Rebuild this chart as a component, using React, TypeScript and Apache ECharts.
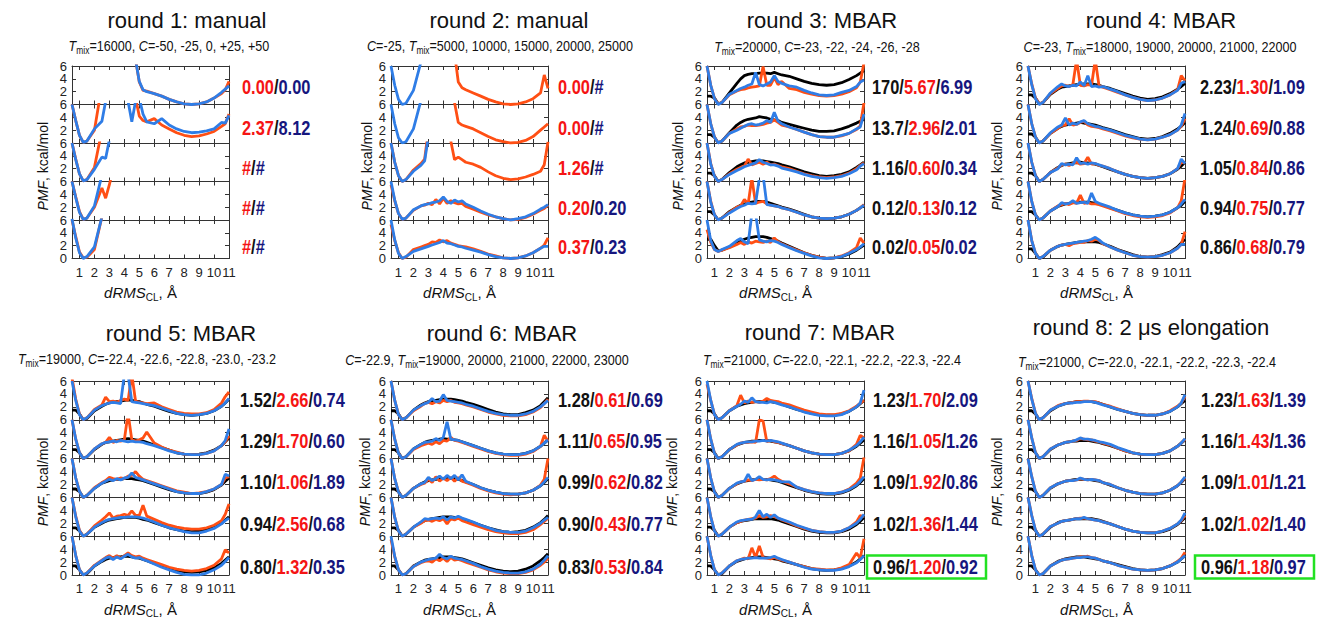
import React, { useEffect, useRef } from 'react';
import * as echarts from 'echarts';

const _ = null;

// x grid (dRMS_CL, Å)
const X = [0.5, 0.75, 1, 1.25, 1.5, 2, 2.5, 2.75, 3, 3.25, 3.5, 3.75, 4, 4.25, 4.5, 4.75, 5, 5.25, 5.5, 6, 6.5, 7, 7.5, 8, 8.5, 9, 9.5, 10, 10.5, 10.75, 11];
const X_TICKS = [1, 2, 3, 4, 5, 6, 7, 8, 9, 10, 11];

// ---------- round 1 ----------
const r1s1R = [_, _, _, _, _, _, _, _, _, _, _, _, _, _, _, 7, 3.5, 2.2, 2.1, 1.7, 1.3, 0.8, 0.4, 0.1, 0.0, 0.1, 0.4, 1.0, 1.7, 2.3, 3.6];
const r1s1B = [_, _, _, _, _, _, _, _, _, _, _, _, _, _, _, 7, 3.6, 2.3, 2.0, 1.7, 1.3, 0.8, 0.4, 0.1, 0.0, 0.1, 0.4, 1.0, 1.9, 2.4, 2.9];
const r1s2R = [6, 3.5, 1.2, 0.1, 0.3, 2.0, 9, _, _, _, _, _, _, _, _, 7, 4.2, 3.5, 3.3, 3.8, 2.8, 2.2, 1.6, 1.2, 1.0, 1.1, 1.4, 1.8, 2.6, 3.0, 4.5];
const r1s2B = [6, 3.5, 1.2, 0.1, 0.3, 2.2, 3.4, 6.5, _, _, _, _, _, 6.5, 3.3, 6.5, 7, 4.5, 3.3, 3.0, 3.8, 2.8, 2.2, 1.8, 1.6, 1.7, 1.9, 2.2, 3.2, 3.1, 4.3];
const r1s3R = [6, 3.5, 1.2, 0.1, 0.3, 2.2, 8, _, _, _, _, _, _, _, _, _, _, _, _, _, _, _, _, _, _, _, _, _, _, _, _];
const r1s3B = [6, 3.4, 1.2, 0.1, 0.3, 1.9, 3.8, 3.6, 6.5, _, _, _, _, _, _, _, _, _, _, _, _, _, _, _, _, _, _, _, _, _, _];
const r1s4R = [6, 3.6, 1.3, 0.1, 0.3, 2.0, 5.0, 3.4, 5.5, 8, _, _, _, _, _, _, _, _, _, _, _, _, _, _, _, _, _, _, _, _, _];
const r1s4B = [6, 3.5, 1.2, 0.1, 0.3, 2.2, 7, _, _, _, _, _, _, _, _, _, _, _, _, _, _, _, _, _, _, _, _, _, _, _, _];
const r1s5R = [6, 3.4, 1.0, 0.1, 0.2, 1.4, 6.5, _, _, _, _, _, _, _, _, _, _, _, _, _, _, _, _, _, _, _, _, _, _, _, _];
const r1s5B = [6.2, 3.2, 0.9, 0.0, 0.3, 1.8, 6.5, _, _, _, _, _, _, _, _, _, _, _, _, _, _, _, _, _, _, _, _, _, _, _, _];

// ---------- round 2 ----------
const r2s1R = [_, _, _, _, _, _, _, _, _, _, _, _, _, _, _, 8, 3.5, 2.6, 2.3, 1.8, 1.3, 0.8, 0.4, 0.1, 0.0, 0.1, 0.4, 0.9, 1.8, 4.6, 2.5];
const r2s1B = [6, 3.0, 0.8, 0.0, 0.2, 2.2, 6.6, _, _, _, _, _, _, _, _, _, _, _, _, _, _, _, _, _, _, _, _, _, _, _, _];
const r2s2R = [_, _, _, _, _, _, _, _, _, _, _, _, _, _, _, 6.3, 3.2, 2.8, 2.6, 2.2, 1.6, 1.0, 0.5, 0.2, 0.0, 0.1, 0.4, 1.0, 2.0, 2.5, 3.0];
const r2s2B = [6, 3.0, 0.8, 0.0, 0.2, 2.2, 6.6, _, _, _, _, _, _, _, _, _, _, _, _, _, _, _, _, _, _, _, _, _, _, _, _];
const r2s3R = [6, 3.0, 0.9, 0.0, 0.3, 1.8, 2.8, 3.5, 8, _, _, _, _, _, 6.3, 3.4, 3.8, 3.4, 3.0, 2.7, 2.2, 1.5, 0.9, 0.5, 0.3, 0.4, 0.7, 1.1, 1.6, 2.6, 6.2];
const r2s3B = [6, 3.0, 0.9, 0.0, 0.3, 1.6, 2.5, 3.2, 7, _, _, _, _, _, _, _, _, _, _, _, _, _, _, _, _, _, _, _, _, _, _];
const r2s4R = [5.5, 3.0, 1.0, 0.1, 0.3, 1.5, 2.2, 2.3, 2.6, 2.4, 3.2, 2.5, 3.4, 2.6, 3.0, 2.7, 2.5, 2.6, 2.1, 1.7, 1.2, 0.8, 0.5, 0.2, 0.0, 0.1, 0.4, 0.9, 1.5, 1.8, 2.3];
const r2s4B = [6, 3.1, 1.0, 0.1, 0.3, 1.6, 2.2, 2.4, 2.5, 2.7, 2.8, 3.0, 3.6, 2.9, 2.6, 3.1, 2.8, 3.0, 2.5, 2.0, 1.4, 0.9, 0.5, 0.2, 0.0, 0.2, 0.5, 1.0, 1.7, 2.0, 2.4];
const r2s5R = [5.3, 2.8, 0.9, 0.0, 0.2, 1.4, 1.8, 2.0, 2.2, 2.6, 2.5, 2.9, 2.6, 2.8, 2.4, 2.2, 2.0, 1.9, 1.8, 1.5, 1.1, 0.7, 0.4, 0.1, 0.0, 0.1, 0.4, 0.9, 1.6, 2.1, 3.2];
const r2s5B = [6, 2.9, 0.8, 0.0, 0.3, 1.1, 1.5, 1.7, 1.9, 2.1, 2.3, 2.5, 2.8, 2.4, 2.3, 2.1, 1.9, 1.8, 1.6, 1.3, 1.0, 0.6, 0.3, 0.1, 0.0, 0.1, 0.4, 0.9, 1.6, 1.9, 1.9];

// ---------- round 3 ----------
const r3s1K = [1.3, 1.3, 1.0, 0.1, 0.3, 1.8, 3.3, 4.0, 4.5, 4.7, 4.8, 4.8, 4.9, 4.9, 4.9, 4.8, 5.0, 4.8, 4.6, 4.4, 4.0, 3.6, 3.3, 3.1, 3.0, 3.1, 3.4, 3.9, 4.5, 4.9, 5.3];
const r3s1R = [6, 3.0, 0.9, 0.1, 0.3, 1.5, 2.1, 2.3, 2.4, 2.6, 2.7, 2.8, 2.9, 5.9, 3.0, 3.0, 4.2, 3.1, 3.6, 2.5, 2.3, 1.9, 1.6, 1.4, 1.3, 1.4, 1.6, 2.0, 2.6, 3.5, 6.5];
const r3s1B = [6, 3.0, 0.9, 0.0, 0.3, 1.6, 2.2, 2.5, 2.7, 3.0, 3.2, 5.0, 3.1, 2.9, 3.2, 3.5, 4.5, 3.6, 3.3, 2.9, 2.7, 2.2, 1.8, 1.5, 1.4, 1.5, 1.9, 2.2, 2.8, 3.5, 3.8];
const r3s2K = [1.3, 1.3, 0.9, 0.0, 0.3, 1.6, 2.8, 3.2, 3.5, 3.7, 3.8, 3.9, 4.1, 4.0, 3.9, 3.7, 3.6, 3.5, 3.2, 2.9, 2.6, 2.3, 2.0, 1.8, 1.8, 1.9, 2.2, 2.6, 3.1, 3.4, 3.7];
const r3s2R = [6, 3.0, 0.9, 0.0, 0.3, 1.5, 2.2, 2.5, 2.6, 2.8, 2.7, 2.7, 2.8, 2.9, 3.1, 3.2, 3.6, 3.2, 2.8, 2.5, 2.1, 1.7, 1.3, 1.0, 0.9, 0.9, 1.1, 1.5, 2.1, 2.7, 6.3];
const r3s2B = [6, 3.0, 0.9, 0.0, 0.3, 1.5, 2.0, 2.3, 2.6, 2.9, 3.0, 2.8, 2.9, 3.1, 3.5, 3.2, 4.8, 3.4, 3.0, 2.5, 2.1, 1.7, 1.3, 1.0, 0.9, 0.9, 1.2, 1.5, 2.2, 2.5, 4.5];
const r3s3K = [1.3, 1.3, 0.9, 0.0, 0.3, 1.4, 2.3, 2.6, 2.9, 3.0, 3.1, 3.2, 3.2, 3.2, 3.1, 3.0, 2.9, 2.8, 2.6, 2.3, 1.9, 1.5, 1.2, 0.9, 0.8, 0.9, 1.1, 1.5, 2.2, 2.6, 3.0];
const r3s3R = [6, 2.8, 0.8, 0.0, 0.3, 1.2, 1.9, 2.2, 2.4, 3.5, 2.6, 2.8, 3.0, 2.7, 3.0, 2.6, 2.7, 2.5, 2.3, 2.0, 1.6, 1.2, 0.9, 0.7, 0.6, 0.7, 0.9, 1.3, 2.0, 2.5, 2.9];
const r3s3B = [6, 2.7, 0.8, 0.0, 0.3, 1.1, 1.7, 2.0, 2.3, 2.5, 2.7, 2.9, 3.4, 3.0, 2.8, 2.6, 2.6, 2.4, 2.1, 1.8, 1.5, 1.1, 0.8, 0.6, 0.5, 0.6, 0.8, 1.2, 1.8, 2.4, 2.8];
const r3s4K = [1.3, 1.3, 0.8, 0.0, 0.3, 1.3, 2.0, 2.3, 2.5, 2.7, 2.8, 2.9, 2.9, 2.9, 2.8, 2.6, 2.4, 2.2, 2.0, 1.7, 1.3, 0.9, 0.5, 0.3, 0.2, 0.3, 0.5, 0.9, 1.5, 1.9, 2.3];
const r3s4R = [6, 2.9, 0.8, 0.0, 0.3, 1.2, 2.0, 2.2, 3.2, 2.5, 6.5, 2.6, 2.8, 2.9, 2.5, 2.3, 2.2, 2.1, 1.9, 1.6, 1.2, 0.8, 0.5, 0.3, 0.2, 0.3, 0.5, 0.9, 1.5, 1.9, 2.4];
const r3s4B = [6, 2.8, 0.8, 0.0, 0.3, 1.1, 1.8, 2.1, 2.3, 2.6, 2.5, 2.6, 6.5, 7, 2.4, 2.3, 2.2, 2.1, 1.9, 1.6, 1.2, 0.8, 0.5, 0.3, 0.2, 0.3, 0.5, 0.9, 1.5, 1.9, 2.3];
const r3s5K = [3.0, 3.0, 2.0, 1.2, 1.3, 1.8, 2.4, 2.7, 3.0, 3.2, 3.3, 3.4, 3.4, 3.4, 3.3, 3.1, 2.9, 2.7, 2.4, 1.9, 1.4, 0.9, 0.5, 0.2, 0.0, 0.1, 0.3, 0.7, 1.3, 1.7, 2.1];
const r3s5R = [4.5, 2.5, 1.4, 1.1, 1.3, 1.7, 2.2, 2.5, 2.2, 2.6, 2.4, 2.7, 2.6, 2.5, 2.7, 2.5, 3.2, 2.6, 2.3, 1.8, 1.3, 0.9, 0.5, 0.2, 0.0, 0.1, 0.4, 0.9, 1.7, 3.2, 2.4];
const r3s5B = [6, 2.8, 1.4, 1.1, 1.4, 1.9, 2.8, 3.1, 2.6, 2.3, 7, 7, 2.9, 2.7, 2.6, 2.8, 2.7, 2.5, 2.2, 1.7, 1.2, 0.8, 0.4, 0.1, 0.0, 0.1, 0.3, 0.8, 1.4, 1.8, 2.3];

// ---------- round 4 ----------
const r4s1K = [1.5, 1.5, 1.0, 0.1, 0.3, 1.6, 2.4, 2.7, 2.8, 2.9, 3.0, 3.1, 3.1, 3.2, 3.2, 3.2, 3.1, 3.0, 2.8, 2.5, 2.1, 1.7, 1.3, 1.0, 0.8, 0.9, 1.2, 1.7, 2.4, 2.8, 3.3];
const r4s1R = [6, 3.2, 1.0, 0.1, 0.3, 1.7, 2.5, 2.9, 3.0, 2.8, 3.1, 7, 3.0, 2.9, 3.1, 3.0, 7, 2.9, 2.7, 2.3, 1.9, 1.5, 1.1, 0.8, 0.6, 0.7, 1.0, 1.5, 2.3, 4.5, 3.7];
const r4s1B = [6, 3.1, 0.9, 0.0, 0.3, 1.8, 2.8, 3.2, 2.9, 2.8, 3.0, 2.9, 3.5, 2.9, 4.5, 2.8, 2.9, 2.7, 2.8, 2.4, 2.0, 1.5, 1.1, 0.8, 0.6, 0.7, 1.0, 1.5, 2.2, 3.3, 3.6];
const r4s2K = [1.4, 1.4, 0.9, 0.0, 0.3, 1.5, 2.3, 2.6, 2.8, 2.9, 3.0, 3.1, 3.2, 3.1, 3.0, 2.9, 2.8, 2.6, 2.4, 2.1, 1.7, 1.3, 1.0, 0.7, 0.6, 0.7, 1.0, 1.5, 2.2, 2.6, 3.2];
const r4s2R = [6, 3.0, 0.9, 0.0, 0.3, 1.5, 2.3, 2.7, 2.8, 3.8, 2.8, 2.9, 3.2, 3.4, 2.8, 2.6, 2.5, 2.4, 2.2, 1.9, 1.5, 1.1, 0.8, 0.6, 0.5, 0.6, 0.9, 1.3, 2.0, 2.6, 3.8];
const r4s2B = [6, 3.0, 0.9, 0.0, 0.3, 1.6, 2.5, 2.8, 3.9, 2.8, 3.1, 2.9, 3.3, 3.5, 3.0, 2.8, 2.6, 2.5, 2.3, 2.0, 1.6, 1.2, 0.9, 0.6, 0.5, 0.6, 0.9, 1.3, 2.0, 2.8, 4.6];
const r4s3K = [1.3, 1.3, 0.9, 0.0, 0.3, 1.4, 2.2, 2.5, 2.7, 2.8, 2.9, 2.9, 3.0, 2.9, 2.9, 2.8, 2.7, 2.5, 2.3, 1.9, 1.5, 1.1, 0.8, 0.6, 0.5, 0.6, 0.8, 1.2, 1.9, 2.4, 3.0];
const r4s3R = [6, 3.0, 0.9, 0.0, 0.3, 1.4, 2.1, 2.6, 2.7, 2.5, 2.8, 3.0, 2.7, 2.8, 3.8, 2.7, 2.8, 2.5, 2.4, 2.0, 1.5, 1.1, 0.8, 0.6, 0.5, 0.6, 0.8, 1.2, 2.0, 3.0, 2.9];
const r4s3B = [6, 3.0, 0.9, 0.0, 0.3, 1.4, 2.0, 2.8, 2.6, 2.7, 2.6, 3.7, 2.8, 2.9, 2.7, 2.9, 2.8, 2.6, 2.4, 2.0, 1.5, 1.1, 0.8, 0.6, 0.5, 0.6, 0.8, 1.2, 2.0, 3.5, 2.8];
const r4s4K = [1.3, 1.3, 0.8, 0.0, 0.3, 1.4, 2.1, 2.3, 2.5, 2.6, 2.7, 2.8, 2.8, 2.8, 2.8, 2.7, 2.6, 2.5, 2.3, 1.9, 1.5, 1.1, 0.8, 0.6, 0.5, 0.6, 0.8, 1.2, 1.9, 2.3, 2.9];
const r4s4R = [6, 2.9, 0.8, 0.0, 0.3, 1.4, 2.2, 2.4, 2.6, 2.4, 2.7, 2.6, 3.9, 2.6, 2.7, 2.5, 2.5, 2.4, 2.2, 1.8, 1.4, 1.0, 0.7, 0.5, 0.4, 0.5, 0.7, 1.1, 1.9, 3.0, 6.5];
const r4s4B = [6, 2.9, 0.8, 0.0, 0.3, 1.4, 2.1, 2.7, 2.5, 2.6, 3.0, 2.6, 2.7, 2.8, 2.6, 4.2, 2.9, 2.6, 2.4, 2.0, 1.5, 1.1, 0.8, 0.6, 0.5, 0.6, 0.8, 1.2, 1.9, 2.5, 3.2];
const r4s5K = [1.5, 1.5, 0.8, 0.0, 0.2, 1.3, 1.9, 2.1, 2.2, 2.3, 2.4, 2.5, 2.6, 2.6, 2.6, 2.6, 2.6, 2.5, 2.3, 1.9, 1.4, 1.0, 0.6, 0.3, 0.2, 0.3, 0.6, 1.0, 1.8, 2.4, 3.0];
const r4s5R = [6, 2.8, 0.8, 0.0, 0.3, 1.3, 1.9, 2.1, 2.2, 2.0, 2.3, 2.4, 2.5, 2.5, 2.8, 2.7, 3.0, 2.8, 2.3, 1.8, 1.3, 0.9, 0.5, 0.3, 0.2, 0.3, 0.5, 0.9, 1.6, 2.2, 4.2];
const r4s5B = [6, 2.8, 0.8, 0.0, 0.3, 1.3, 1.9, 2.1, 2.2, 2.3, 2.4, 2.5, 2.6, 2.7, 2.8, 3.0, 3.3, 2.9, 2.4, 1.8, 1.3, 0.9, 0.5, 0.3, 0.2, 0.3, 0.5, 0.9, 1.6, 2.2, 2.2];

// ---------- round 5 ----------
const r5s1K = [1.5, 1.5, 0.9, 0.0, 0.2, 1.4, 2.1, 2.4, 2.6, 2.7, 2.8, 2.9, 3.0, 3.1, 3.0, 2.9, 2.8, 2.6, 2.4, 2.1, 1.7, 1.3, 1.0, 0.8, 0.7, 0.8, 1.0, 1.4, 2.1, 2.6, 3.2];
const r5s1R = [6.5, 3.2, 0.9, 0.0, 0.3, 1.6, 2.3, 3.5, 2.8, 2.9, 2.7, 3.0, 3.2, 3.0, 7, 2.9, 2.7, 2.6, 2.5, 2.6, 2.0, 1.6, 1.2, 1.0, 0.9, 0.9, 1.1, 1.6, 2.6, 3.6, 4.3];
const r5s1B = [6, 3.0, 0.8, 0.0, 0.3, 1.5, 2.2, 2.4, 2.6, 2.7, 2.6, 2.5, 7, 7, 2.8, 2.7, 2.6, 2.5, 2.4, 2.2, 1.8, 1.4, 1.0, 0.8, 0.7, 0.8, 1.0, 1.4, 2.1, 2.6, 3.3];
const r5s2K = [1.4, 1.4, 0.9, 0.0, 0.3, 1.4, 2.2, 2.5, 2.6, 2.7, 2.8, 2.9, 3.0, 3.1, 3.0, 2.9, 2.8, 2.7, 2.5, 2.1, 1.7, 1.3, 0.9, 0.7, 0.6, 0.7, 0.9, 1.3, 2.0, 2.6, 3.2];
const r5s2R = [6, 3.0, 0.9, 0.0, 0.3, 1.5, 2.3, 2.5, 3.3, 2.5, 2.8, 2.7, 2.9, 7, 2.9, 2.7, 2.9, 3.2, 4.1, 2.4, 1.8, 1.3, 1.0, 0.7, 0.6, 0.6, 0.8, 1.2, 2.0, 2.6, 3.5];
const r5s2B = [6, 3.0, 0.9, 0.0, 0.3, 1.5, 2.3, 2.5, 2.6, 2.7, 2.6, 2.8, 2.7, 2.6, 2.7, 2.6, 2.6, 2.5, 2.3, 2.0, 1.6, 1.2, 0.9, 0.7, 0.6, 0.6, 0.8, 1.2, 2.0, 2.8, 4.6];
const r5s3K = [1.3, 1.3, 0.9, 0.0, 0.3, 1.4, 2.2, 2.4, 2.6, 2.7, 2.8, 2.8, 2.9, 2.9, 2.9, 2.8, 2.7, 2.6, 2.4, 2.0, 1.6, 1.2, 0.9, 0.7, 0.6, 0.6, 0.8, 1.2, 1.9, 2.5, 3.0];
const r5s3R = [6, 3.0, 0.9, 0.0, 0.3, 1.5, 2.3, 2.6, 3.1, 2.9, 2.8, 3.0, 2.9, 3.3, 3.4, 4.0, 3.3, 2.8, 2.6, 2.2, 1.8, 1.4, 1.0, 0.8, 0.6, 0.7, 0.9, 1.3, 2.0, 3.0, 3.2];
const r5s3B = [6, 3.0, 0.9, 0.0, 0.3, 1.4, 2.2, 2.5, 2.8, 2.6, 2.9, 2.7, 3.0, 3.1, 3.8, 3.1, 2.9, 2.7, 2.5, 2.1, 1.7, 1.3, 0.9, 0.7, 0.6, 0.6, 0.9, 1.3, 2.0, 3.6, 3.3];
const r5s4K = [1.3, 1.3, 0.8, 0.0, 0.3, 1.4, 2.0, 2.3, 2.5, 2.6, 2.7, 2.8, 2.9, 2.9, 2.9, 2.9, 2.8, 2.6, 2.5, 2.1, 1.7, 1.3, 1.0, 0.8, 0.7, 0.8, 1.0, 1.4, 2.0, 2.5, 3.0];
const r5s4R = [6, 3.1, 0.9, 0.0, 0.3, 1.6, 2.5, 3.0, 3.6, 2.8, 3.1, 3.2, 3.4, 3.2, 3.9, 3.2, 3.2, 4.8, 3.1, 2.6, 2.1, 1.7, 1.4, 1.2, 1.1, 1.1, 1.3, 1.7, 2.4, 3.4, 5.0];
const r5s4B = [6, 3.0, 0.8, 0.0, 0.3, 1.4, 2.1, 2.4, 2.6, 2.7, 2.8, 2.9, 2.9, 3.0, 3.0, 3.0, 2.9, 2.8, 2.6, 2.2, 1.7, 1.3, 1.0, 0.7, 0.5, 0.5, 0.8, 1.2, 1.9, 2.4, 2.8];
const r5s5K = [1.4, 1.4, 0.8, 0.0, 0.2, 1.4, 2.1, 2.4, 2.6, 2.7, 2.8, 2.8, 2.9, 2.9, 2.8, 2.7, 2.6, 2.4, 2.2, 1.8, 1.4, 1.0, 0.7, 0.5, 0.4, 0.5, 0.7, 1.1, 1.8, 2.3, 2.8];
const r5s5R = [6, 3.0, 0.8, 0.0, 0.3, 1.5, 2.3, 2.7, 3.0, 2.6, 3.0, 2.6, 3.0, 3.4, 3.0, 2.8, 2.9, 2.6, 2.4, 2.0, 1.6, 1.2, 0.9, 0.7, 0.6, 0.7, 1.0, 1.5, 2.5, 3.9, 3.4];
const r5s5B = [6, 3.0, 0.8, 0.0, 0.3, 1.4, 2.2, 2.6, 2.8, 2.4, 2.8, 2.5, 2.9, 3.2, 2.8, 2.6, 2.7, 2.4, 2.2, 1.7, 1.2, 0.8, 0.4, 0.1, 0.0, 0.0, 0.3, 0.8, 1.5, 2.1, 2.7];

// ---------- round 6 ----------
const r6s1K = [1.4, 1.4, 0.9, 0.0, 0.3, 1.5, 2.3, 2.6, 2.8, 2.9, 3.0, 3.1, 3.2, 3.2, 3.2, 3.1, 3.0, 2.9, 2.7, 2.4, 2.0, 1.6, 1.2, 0.9, 0.8, 0.8, 1.1, 1.5, 2.2, 2.8, 3.4];
const r6s1R = [6, 3.0, 0.8, 0.0, 0.3, 1.4, 2.1, 2.5, 2.7, 2.5, 2.8, 2.6, 3.0, 2.8, 3.0, 2.7, 2.6, 2.5, 2.3, 2.0, 1.6, 1.2, 0.9, 0.7, 0.6, 0.6, 0.8, 1.2, 1.9, 2.5, 3.2];
const r6s1B = [6, 3.0, 0.8, 0.0, 0.3, 1.5, 2.2, 2.5, 2.7, 3.3, 2.8, 2.9, 3.9, 3.0, 2.9, 2.8, 2.7, 2.6, 2.4, 2.1, 1.7, 1.3, 1.0, 0.8, 0.7, 0.7, 0.9, 1.3, 2.0, 2.5, 3.0];
const r6s2K = [1.4, 1.4, 0.9, 0.0, 0.3, 1.5, 2.2, 2.5, 2.7, 2.8, 2.9, 3.0, 3.1, 3.0, 3.0, 2.9, 2.8, 2.6, 2.4, 2.0, 1.6, 1.2, 0.9, 0.7, 0.6, 0.6, 0.8, 1.2, 1.9, 2.4, 2.9];
const r6s2R = [6, 3.0, 0.8, 0.0, 0.3, 1.4, 2.0, 2.2, 2.4, 2.2, 2.6, 2.3, 2.8, 2.7, 3.3, 2.8, 2.7, 2.5, 2.3, 1.9, 1.5, 1.1, 0.8, 0.6, 0.5, 0.5, 0.7, 1.1, 1.9, 3.6, 2.7];
const r6s2B = [6, 3.0, 0.8, 0.0, 0.3, 1.5, 2.2, 2.5, 2.6, 2.7, 3.1, 2.8, 3.3, 5.7, 3.0, 2.9, 2.8, 2.6, 2.4, 2.0, 1.6, 1.2, 0.9, 0.7, 0.6, 0.6, 0.8, 1.2, 1.9, 2.4, 2.9];
const r6s3K = [1.3, 1.3, 0.9, 0.0, 0.3, 1.4, 2.1, 2.4, 2.6, 2.7, 2.8, 2.9, 2.9, 3.0, 2.9, 2.9, 2.8, 2.6, 2.4, 2.0, 1.5, 1.1, 0.8, 0.6, 0.5, 0.5, 0.7, 1.1, 1.8, 2.3, 2.9];
const r6s3R = [6, 2.9, 0.8, 0.0, 0.3, 1.4, 2.0, 2.2, 2.8, 2.3, 3.2, 2.5, 3.0, 2.6, 3.1, 2.5, 3.1, 2.5, 2.3, 1.9, 1.4, 1.0, 0.7, 0.5, 0.4, 0.5, 0.7, 1.1, 1.9, 2.8, 6.0];
const r6s3B = [6, 2.9, 0.8, 0.0, 0.3, 1.4, 2.1, 2.3, 3.1, 2.6, 2.9, 3.3, 2.8, 3.4, 2.9, 3.4, 2.7, 3.5, 2.5, 2.0, 1.5, 1.1, 0.8, 0.6, 0.5, 0.5, 0.7, 1.1, 1.8, 2.4, 3.1];
const r6s4K = [1.3, 1.3, 0.9, 0.0, 0.3, 1.4, 2.1, 2.4, 2.6, 2.7, 2.8, 2.9, 3.0, 3.0, 3.0, 2.9, 2.8, 2.7, 2.5, 2.1, 1.7, 1.3, 1.0, 0.7, 0.6, 0.7, 0.9, 1.4, 2.1, 2.6, 3.2];
const r6s4R = [6, 2.9, 0.8, 0.0, 0.3, 1.4, 2.0, 2.4, 2.5, 2.3, 2.6, 2.4, 2.7, 1.9, 2.7, 2.5, 2.8, 2.4, 2.2, 1.8, 1.4, 1.0, 0.7, 0.5, 0.4, 0.4, 0.6, 1.0, 1.8, 2.3, 2.8];
const r6s4B = [6, 2.9, 0.8, 0.0, 0.3, 1.4, 2.2, 2.7, 2.6, 2.7, 2.8, 2.7, 3.0, 2.5, 3.0, 2.8, 3.1, 2.8, 2.6, 2.2, 1.7, 1.3, 0.9, 0.7, 0.6, 0.6, 0.8, 1.3, 2.0, 2.5, 2.9];
const r6s5K = [1.4, 1.4, 0.8, 0.0, 0.2, 1.4, 2.0, 2.3, 2.4, 2.5, 2.6, 2.7, 2.8, 2.8, 2.8, 2.7, 2.6, 2.5, 2.3, 1.9, 1.5, 1.1, 0.8, 0.6, 0.5, 0.6, 0.9, 1.4, 2.2, 2.7, 3.3];
const r6s5R = [5.5, 2.8, 0.8, 0.0, 0.2, 1.3, 1.9, 2.1, 2.2, 2.0, 2.5, 2.2, 2.6, 2.1, 2.7, 2.3, 2.4, 2.2, 2.0, 1.6, 1.2, 0.8, 0.5, 0.3, 0.2, 0.2, 0.4, 0.8, 1.5, 2.0, 2.6];
const r6s5B = [6, 2.9, 0.8, 0.0, 0.2, 1.3, 2.0, 2.2, 2.4, 2.5, 2.6, 3.2, 2.7, 2.5, 2.9, 2.6, 2.5, 2.4, 2.2, 1.8, 1.3, 0.9, 0.6, 0.4, 0.3, 0.3, 0.5, 0.9, 1.7, 2.3, 3.0];

// ---------- round 7 ----------
const r7s1K = [1.4, 1.4, 0.9, 0.0, 0.3, 1.4, 2.1, 2.3, 2.5, 2.6, 2.7, 2.8, 2.8, 2.8, 2.8, 2.8, 2.7, 2.6, 2.4, 2.0, 1.6, 1.3, 1.0, 0.8, 0.7, 0.7, 0.9, 1.3, 2.0, 2.5, 3.0];
const r7s1R = [5.5, 3.0, 0.8, 0.0, 0.3, 1.4, 2.2, 3.8, 2.6, 2.9, 2.7, 2.8, 2.7, 2.9, 3.3, 3.0, 2.9, 2.8, 2.6, 2.3, 1.9, 1.5, 1.2, 0.9, 0.8, 0.8, 1.0, 1.4, 2.1, 2.6, 3.0];
const r7s1B = [6, 3.0, 0.8, 0.0, 0.3, 1.4, 2.1, 2.4, 2.9, 2.7, 3.4, 2.8, 2.7, 2.7, 2.6, 2.8, 2.7, 2.5, 2.3, 2.0, 1.6, 1.2, 0.9, 0.7, 0.6, 0.6, 0.8, 1.3, 2.0, 2.6, 4.6];
const r7s2K = [1.4, 1.4, 0.9, 0.0, 0.3, 1.4, 2.1, 2.3, 2.5, 2.6, 2.7, 2.7, 2.8, 2.8, 2.8, 2.7, 2.6, 2.5, 2.3, 2.0, 1.6, 1.2, 0.9, 0.7, 0.6, 0.6, 0.8, 1.2, 1.9, 2.4, 2.9];
const r7s2R = [6, 3.0, 0.8, 0.0, 0.3, 1.4, 2.1, 2.4, 2.5, 2.5, 2.6, 2.5, 6.0, 5.8, 2.6, 2.8, 2.6, 2.5, 2.3, 2.0, 1.6, 1.2, 0.9, 0.7, 0.6, 0.6, 0.8, 1.2, 2.2, 3.6, 3.2];
const r7s2B = [6, 3.0, 0.8, 0.0, 0.3, 1.4, 2.2, 2.4, 2.5, 2.6, 2.6, 2.7, 2.7, 2.8, 2.7, 2.8, 2.7, 2.6, 2.4, 2.0, 1.6, 1.2, 0.9, 0.7, 0.6, 0.6, 0.8, 1.3, 2.0, 2.6, 3.3];
const r7s3K = [1.3, 1.3, 0.9, 0.0, 0.3, 1.4, 2.1, 2.3, 2.5, 2.6, 2.7, 2.8, 2.8, 2.8, 2.8, 2.7, 2.6, 2.5, 2.3, 1.9, 1.5, 1.1, 0.8, 0.6, 0.5, 0.5, 0.7, 1.1, 1.8, 2.3, 2.9];
const r7s3R = [6, 3.0, 0.8, 0.0, 0.3, 1.4, 2.1, 2.4, 2.5, 2.7, 2.6, 2.8, 2.7, 2.8, 2.7, 2.9, 3.3, 2.8, 2.5, 2.1, 1.6, 1.2, 0.9, 0.7, 0.6, 0.6, 0.8, 1.3, 2.2, 3.0, 6.2];
const r7s3B = [6, 3.0, 0.8, 0.0, 0.3, 1.4, 2.2, 2.4, 2.5, 3.6, 2.6, 2.8, 3.2, 2.8, 2.7, 2.8, 2.7, 2.6, 2.4, 2.4, 1.6, 1.2, 0.9, 0.7, 0.6, 0.6, 0.8, 1.2, 1.9, 2.5, 3.2];
const r7s4K = [1.4, 1.4, 0.9, 0.0, 0.3, 1.4, 2.1, 2.3, 2.4, 2.5, 2.6, 2.7, 2.7, 2.7, 2.7, 2.7, 2.6, 2.5, 2.3, 1.9, 1.5, 1.1, 0.8, 0.6, 0.5, 0.5, 0.7, 1.1, 1.8, 2.3, 2.9];
const r7s4R = [6, 3.0, 0.8, 0.0, 0.3, 1.4, 2.1, 2.3, 2.5, 2.6, 2.7, 2.8, 3.2, 2.9, 3.0, 3.2, 3.0, 2.8, 2.5, 2.1, 1.6, 1.2, 0.9, 0.7, 0.6, 0.6, 0.8, 1.3, 2.2, 3.2, 3.0];
const r7s4B = [6, 3.0, 0.8, 0.0, 0.3, 1.4, 2.2, 2.4, 2.5, 2.6, 2.6, 3.0, 4.0, 3.0, 3.4, 2.9, 3.3, 2.8, 2.6, 2.2, 1.7, 1.3, 0.9, 0.7, 0.6, 0.6, 0.8, 1.3, 2.0, 2.6, 3.4];
const r7s5K = [1.4, 1.4, 0.8, 0.0, 0.2, 1.4, 2.1, 2.3, 2.5, 2.6, 2.7, 2.8, 2.8, 2.8, 2.7, 2.6, 2.5, 2.4, 2.2, 1.9, 1.6, 1.3, 1.0, 0.8, 0.7, 0.8, 1.0, 1.4, 2.0, 2.5, 3.0];
const r7s5R = [6, 3.0, 0.8, 0.0, 0.3, 1.4, 2.2, 2.4, 2.6, 2.5, 4.2, 2.7, 4.5, 2.7, 2.6, 2.5, 2.7, 2.5, 2.3, 2.0, 1.6, 1.3, 1.0, 0.9, 0.8, 0.8, 1.1, 1.6, 3.4, 2.6, 5.6];
const r7s5B = [6, 3.0, 0.8, 0.0, 0.3, 1.4, 2.2, 2.4, 2.5, 2.6, 2.6, 2.7, 2.6, 2.6, 2.6, 2.7, 2.9, 2.6, 2.4, 2.0, 1.6, 1.2, 0.9, 0.8, 0.7, 0.7, 0.9, 1.3, 1.9, 2.4, 3.0];

// ---------- round 8 (reference black curves are those of round 7) ----------
const r8s1R = [6, 3.3, 1.0, 0.0, 0.3, 1.5, 2.2, 2.4, 2.5, 2.6, 2.7, 2.8, 2.8, 2.9, 2.9, 2.8, 2.8, 2.6, 2.4, 2.1, 1.7, 1.3, 1.0, 0.8, 0.7, 0.7, 0.9, 1.4, 2.1, 2.6, 3.6];
const r8s1B = [6, 3.2, 1.0, 0.0, 0.3, 1.5, 2.1, 2.3, 2.5, 2.6, 2.6, 2.7, 2.7, 2.8, 2.8, 2.8, 2.7, 2.5, 2.3, 2.0, 1.6, 1.3, 1.0, 0.8, 0.7, 0.7, 0.9, 1.3, 2.0, 2.6, 3.9];
const r8s2R = [6, 3.2, 0.9, 0.0, 0.3, 1.5, 2.1, 2.3, 2.5, 2.6, 2.7, 2.8, 3.1, 3.0, 2.9, 2.9, 2.7, 2.6, 2.4, 2.1, 1.6, 1.2, 0.9, 0.7, 0.6, 0.6, 0.8, 1.2, 1.9, 2.4, 3.0];
const r8s2B = [6, 3.2, 0.9, 0.0, 0.3, 1.5, 2.1, 2.3, 2.5, 2.6, 2.7, 2.9, 3.2, 3.0, 3.0, 2.9, 2.8, 2.6, 2.5, 2.2, 1.7, 1.3, 0.9, 0.7, 0.6, 0.6, 0.8, 1.2, 1.9, 2.4, 3.1];
const r8s3R = [6, 3.2, 0.9, 0.0, 0.3, 1.5, 2.1, 2.3, 2.5, 2.6, 2.6, 2.7, 2.9, 2.8, 2.7, 2.8, 2.7, 2.6, 2.3, 2.0, 1.5, 1.1, 0.8, 0.6, 0.5, 0.5, 0.7, 1.1, 1.8, 2.4, 3.0];
const r8s3B = [6, 3.2, 0.9, 0.0, 0.3, 1.5, 2.1, 2.3, 2.5, 2.6, 2.6, 2.7, 3.0, 2.8, 2.7, 2.8, 2.7, 2.6, 2.3, 2.0, 1.5, 1.1, 0.8, 0.6, 0.5, 0.5, 0.7, 1.1, 1.8, 2.4, 3.2];
const r8s4R = [6, 3.2, 0.9, 0.0, 0.3, 1.5, 2.0, 2.3, 2.4, 2.5, 2.6, 2.7, 2.8, 2.8, 2.7, 2.6, 2.5, 2.4, 2.2, 1.9, 1.5, 1.1, 0.8, 0.6, 0.5, 0.5, 0.8, 1.2, 1.9, 2.4, 3.2];
const r8s4B = [6, 3.2, 0.9, 0.0, 0.3, 1.5, 2.0, 2.3, 2.4, 2.5, 2.6, 2.7, 2.7, 2.9, 2.7, 2.6, 2.5, 2.4, 2.2, 1.9, 1.5, 1.1, 0.8, 0.6, 0.5, 0.5, 0.8, 1.2, 1.9, 2.5, 3.6];
const r8s5R = [6, 3.0, 0.8, 0.0, 0.2, 1.4, 2.0, 2.3, 2.4, 2.5, 2.6, 2.7, 2.8, 2.8, 2.9, 2.7, 2.6, 2.4, 2.2, 1.9, 1.5, 1.2, 0.9, 0.8, 0.7, 0.8, 1.0, 1.4, 2.1, 2.6, 3.5];
const r8s5B = [6, 3.0, 0.8, 0.0, 0.2, 1.4, 2.0, 2.3, 2.4, 2.5, 2.6, 2.7, 2.7, 2.8, 2.8, 2.7, 2.6, 2.4, 2.2, 1.9, 1.5, 1.2, 0.9, 0.8, 0.7, 0.8, 1.0, 1.4, 2.0, 2.5, 3.0];

// [black, red, blue] per stacked sub-plot, per round
const ROUND_LINES = [
  [[_, r1s1R, r1s1B], [_, r1s2R, r1s2B], [_, r1s3R, r1s3B], [_, r1s4R, r1s4B], [_, r1s5R, r1s5B]],
  [[_, r2s1R, r2s1B], [_, r2s2R, r2s2B], [_, r2s3R, r2s3B], [_, r2s4R, r2s4B], [_, r2s5R, r2s5B]],
  [[r3s1K, r3s1R, r3s1B], [r3s2K, r3s2R, r3s2B], [r3s3K, r3s3R, r3s3B], [r3s4K, r3s4R, r3s4B], [r3s5K, r3s5R, r3s5B]],
  [[r4s1K, r4s1R, r4s1B], [r4s2K, r4s2R, r4s2B], [r4s3K, r4s3R, r4s3B], [r4s4K, r4s4R, r4s4B], [r4s5K, r4s5R, r4s5B]],
  [[r5s1K, r5s1R, r5s1B], [r5s2K, r5s2R, r5s2B], [r5s3K, r5s3R, r5s3B], [r5s4K, r5s4R, r5s4B], [r5s5K, r5s5R, r5s5B]],
  [[r6s1K, r6s1R, r6s1B], [r6s2K, r6s2R, r6s2B], [r6s3K, r6s3R, r6s3B], [r6s4K, r6s4R, r6s4B], [r6s5K, r6s5R, r6s5B]],
  [[r7s1K, r7s1R, r7s1B], [r7s2K, r7s2R, r7s2B], [r7s3K, r7s3R, r7s3B], [r7s4K, r7s4R, r7s4B], [r7s5K, r7s5R, r7s5B]],
  [[r7s1K, r8s1R, r8s1B], [r7s2K, r8s2R, r8s2B], [r7s3K, r8s3R, r8s3B], [r7s4K, r8s4R, r8s4B], [r7s5K, r8s5R, r8s5B]],
];

const TITLES = ['round 1: manual', 'round 2: manual', 'round 3: MBAR', 'round 4: MBAR', 'round 5: MBAR', 'round 6: MBAR', 'round 7: MBAR', 'round 8: 2 μs elongation'];
const SUBTITLES = [
  '{i|T}{s|mix}{n|=16000, }{i|C}{n|=-50, -25, 0, +25, +50}',
  '{i|C}{n|=-25, }{i|T}{s|mix}{n|=5000, 10000, 15000, 20000, 25000}',
  '{i|T}{s|mix}{n|=20000, }{i|C}{n|=-23, -22, -24, -26, -28}',
  '{i|C}{n|=-23, }{i|T}{s|mix}{n|=18000, 19000, 20000, 21000, 22000}',
  '{i|T}{s|mix}{n|=19000, }{i|C}{n|=-22.4, -22.6, -22.8, -23.0, -23.2}',
  '{i|C}{n|=-22.9, }{i|T}{s|mix}{n|=19000, 20000, 21000, 22000, 23000}',
  '{i|T}{s|mix}{n|=21000, }{i|C}{n|=-22.0, -22.1, -22.2, -22.3, -22.4}',
  '{i|T}{s|mix}{n|=21000, }{i|C}{n|=-22.0, -22.1, -22.2, -22.3, -22.4}',
];
const SCORES = [
  ['0.00/0.00', '2.37/8.12', '#/#', '#/#', '#/#'],
  ['0.00/#', '0.00/#', '1.26/#', '0.20/0.20', '0.37/0.23'],
  ['170/5.67/6.99', '13.7/2.96/2.01', '1.16/0.60/0.34', '0.12/0.13/0.12', '0.02/0.05/0.02'],
  ['2.23/1.30/1.09', '1.24/0.69/0.88', '1.05/0.84/0.86', '0.94/0.75/0.77', '0.86/0.68/0.79'],
  ['1.52/2.66/0.74', '1.29/1.70/0.60', '1.10/1.06/1.89', '0.94/2.56/0.68', '0.80/1.32/0.35'],
  ['1.28/0.61/0.69', '1.11/0.65/0.95', '0.99/0.62/0.82', '0.90/0.43/0.77', '0.83/0.53/0.84'],
  ['1.23/1.70/2.09', '1.16/1.05/1.26', '1.09/1.92/0.86', '1.02/1.36/1.44', '0.96/1.20/0.92'],
  ['1.23/1.63/1.39', '1.16/1.43/1.36', '1.09/1.01/1.21', '1.02/1.02/1.40', '0.96/1.18/0.97'],
];
const BOXED = [6, 7]; // rounds whose last score is framed

// ---------- layout ----------
const FONT = 'Liberation Sans';
const COL_LEFT = [72, 391, 707, 1028];
const PLOT_W = 157;
const ROW_TOP = [66, 381];
const SUB_H = [38.5, 38.8];
const TITLE_POS = [[187, 20], [509, 20], [822, 20], [1161, 20], [181, 333], [502, 333], [820, 332], [1151, 327]];
const SUBTITLE_POS = [[169, 46], [500, 46], [817, 47], [1160, 47], [147, 359], [487, 360], [832, 360], [1147, 362]];
const YNAME_X = [43, 367, 678, 997, 43, 365, 672, 997];
const SCORE_X = [242, 558, 872, 1200, 240, 558, 873, 1201];
const SCORE_Y = [[87, 128, 168, 208, 247], [400, 441, 482, 524, 567]];
const LINE_COLORS = ['#000000', '#ff4f14', '#2f7de6'];
const AX = '#333';

function rich(size: number, extra: any = {}) {
  const c = extra.fill || '#111';
  return { fontSize: size, fontFamily: FONT, lineHeight: Math.round(size * 1.3), fill: c, color: c, ...extra };
}

function buildOption() {
  const grid: any[] = [];
  const xAxis: any[] = [];
  const yAxis: any[] = [];
  const series: any[] = [];
  const graphic: any[] = [];

  ROUND_LINES.forEach((subs, p) => {
    const col = p % 4;
    const row = Math.floor(p / 4);
    subs.forEach((lines, s) => {
      const g = grid.length;
      const bottom = s === subs.length - 1;
      grid.push({ left: COL_LEFT[col], top: ROW_TOP[row] + s * SUB_H[row], width: PLOT_W, height: SUB_H[row] });
      const xBase = {
        type: 'value', gridIndex: g, min: 0.5, max: 11,
        axisLine: { show: true, onZero: false, lineStyle: { color: AX, width: 1 } },
        axisTick: { show: true, inside: true, length: 4, customValues: X_TICKS, lineStyle: { color: AX } },
        splitLine: { show: false },
      };
      xAxis.push({
        ...xBase, position: 'bottom',
        axisLabel: { show: bottom, customValues: X_TICKS, fontSize: 13, fontFamily: FONT, color: '#222', margin: 7 },
      });
      xAxis.push({ ...xBase, position: 'top', axisLabel: { show: false } });
      const yBase = {
        type: 'value', gridIndex: g, min: 0, max: 6, interval: 2,
        axisLine: { show: true, onZero: false, lineStyle: { color: AX, width: 1 } },
        axisTick: { show: true, inside: true, length: 4, lineStyle: { color: AX } },
        splitLine: { show: false },
      };
      yAxis.push({
        ...yBase, position: 'left',
        axisLabel: {
          show: true, fontSize: 13, fontFamily: FONT, color: '#222', margin: 5,
          formatter: (v: number) => (v === 0 && !bottom ? '' : String(v)),
        },
      });
      yAxis.push({ ...yBase, position: 'right', axisLabel: { show: false } });
      lines.forEach((arr, k) => {
        if (!arr) return;
        series.push({
          type: 'line', xAxisIndex: 2 * g, yAxisIndex: 2 * g,
          data: X.map((x, i) => [x, arr[i] == null ? '-' : arr[i]]),
          symbol: 'none', showSymbol: false, silent: true, clip: true, connectNulls: false,
          lineStyle: { color: LINE_COLORS[k], width: 2.8 },
          itemStyle: { color: LINE_COLORS[k] },
          z: 2 + k,
        });
      });
    });

    const plotTop = ROW_TOP[row];
    const plotBottom = ROW_TOP[row] + SUB_H[row] * subs.length;
    const cx = COL_LEFT[col] + PLOT_W / 2;

    // title
    graphic.push({
      type: 'text', x: TITLE_POS[p][0], y: TITLE_POS[p][1],
      style: { text: TITLES[p], fontSize: 22, fontFamily: FONT, fill: '#111', textAlign: 'center', align: 'center', textVerticalAlign: 'middle', verticalAlign: 'middle' },
    });
    // subtitle (condensed face)
    graphic.push({
      type: 'text', x: SUBTITLE_POS[p][0], y: SUBTITLE_POS[p][1], scaleX: 0.84,
      style: {
        text: SUBTITLES[p], fontSize: 15, fontFamily: FONT, fill: '#111',
        textAlign: 'center', align: 'center', textVerticalAlign: 'middle', verticalAlign: 'middle',
        rich: {
          n: rich(15, { lineHeight: 19 }),
          i: rich(15, { lineHeight: 19, fontStyle: 'italic' }),
          s: rich(10, { lineHeight: 10, verticalAlign: 'bottom' }),
        },
      },
    });
    // y-axis name
    graphic.push({
      type: 'text', x: YNAME_X[p], y: (plotTop + plotBottom) / 2 + 4, rotation: Math.PI / 2,
      style: {
        text: '{i|PMF}{n|, kcal/mol}', fontSize: 14, fontFamily: FONT, fill: '#111',
        textAlign: 'center', align: 'center', textVerticalAlign: 'middle', verticalAlign: 'middle',
        rich: { i: rich(14, { fontStyle: 'italic' }), n: rich(14) },
      },
    });
    // x-axis name
    graphic.push({
      type: 'text', x: cx - 10, y: plotBottom + 34,
      style: {
        text: '{i|dRMS}{s|CL}{n|, Å}', fontSize: 15, fontFamily: FONT, fill: '#111',
        textAlign: 'center', align: 'center', textVerticalAlign: 'middle', verticalAlign: 'middle',
        rich: {
          i: rich(15, { lineHeight: 19, fontStyle: 'italic' }),
          n: rich(15, { lineHeight: 19 }),
          s: rich(10, { lineHeight: 10, verticalAlign: 'bottom' }),
        },
      },
    });
    // score labels
    SCORES[p].forEach((txt, s) => {
      const parts = txt.split('/');
      const cls = parts.length === 3 ? ['k', 'r', 'b'] : ['r', 'b'];
      const text = parts.map((t, i) => `{${cls[i]}|${t}}`).join('{k|/}');
      graphic.push({
        type: 'text', x: SCORE_X[p], y: SCORE_Y[row][s], scaleX: 0.82,
        style: {
          text, fontSize: 20, fontWeight: 'bold', fontFamily: FONT, fill: '#111',
          textAlign: 'left', align: 'left', textVerticalAlign: 'middle', verticalAlign: 'middle',
          rich: {
            k: rich(20, { fontWeight: 'bold', fill: '#111' }),
            r: rich(20, { fontWeight: 'bold', fill: '#f51414' }),
            b: rich(20, { fontWeight: 'bold', fill: '#16167e' }),
          },
        },
      });
    });
    if (BOXED.indexOf(p) >= 0) {
      graphic.push({
        type: 'rect',
        shape: { x: SCORE_X[p] - 6, y: SCORE_Y[row][4] - 11.5, width: 119, height: 23 },
        style: { fill: 'none', stroke: '#22e122', lineWidth: 2.5 },
      });
    }
  });

  return { animation: false, backgroundColor: '#ffffff', grid, xAxis, yAxis, series, graphic };
}

export default function App() {
  const ref = useRef<HTMLDivElement | null>(null);
  useEffect(() => {
    if (!ref.current) return;
    const chart = echarts.init(ref.current, undefined, { renderer: 'svg' });
    chart.setOption(buildOption() as any);
    return () => chart.dispose();
  }, []);
  return <div ref={ref} style={{ position: 'absolute', left: 0, top: 0, width: 1321, height: 622 }} />;
}
